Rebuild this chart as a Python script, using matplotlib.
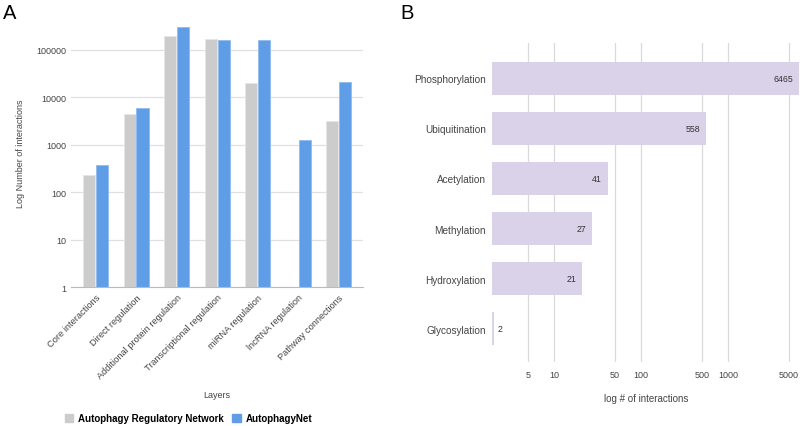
import matplotlib.pyplot as plt
from matplotlib.patches import Patch
import numpy as np

plt.rcParams['font.family'] = ['Liberation Sans', 'DejaVu Sans']

# panel A data
layers = ["Core interactions", "Direct regulation", "Additional protein regulation",
          "Transcriptional regulation", "miRNA regulation", "lncRNA regulation",
          "Pathway connections"]
arn_counts = [235, 4500, 195000, 170000, 20000, 0, 3200]
anet_counts = [380, 6000, 300000, 165000, 165000, 1260, 21000]

# panel B data
ptm_types = ["Phosphorylation", "Ubiquitination", "Acetylation", "Methylation",
             "Hydroxylation", "Glycosylation"]
ptm_counts = [6465, 558, 41, 27, 21, 2]
b_ticks = [5, 10, 50, 100, 500, 1000, 5000]

gray = "#cccccc"
blue = "#5f9de6"
lav = "#d9d2e9"
grid_c = "#e0e0e0"
txt = "#444444"

fig = plt.figure(figsize=(8, 4.27), dpi=100)

# ---- panel A ----
axA = fig.add_axes([0.089, 0.3255, 0.365, 0.628])
x = np.arange(len(layers))
w = 0.3
axA.bar(x - w / 2 - 0.01, arn_counts, w, color=gray, edgecolor="#e6e6e6", linewidth=0.6, zorder=2)
axA.bar(x + w / 2 + 0.01, anet_counts, w, color=blue, edgecolor="#8fbcf0", linewidth=0.6, zorder=2)
axA.set_yscale("log")
axA.set_ylim(1, 10 ** 5.654)
axA.set_xlim(-0.6, len(layers) - 0.4)
axA.set_yticks([1, 10, 100, 1000, 10000, 100000])
axA.set_yticklabels(["1", "10", "100", "1000", "10000", "100000"])
axA.yaxis.set_minor_locator(plt.NullLocator())
axA.grid(axis="y", color=grid_c, linewidth=0.9, zorder=0)
axA.set_axisbelow(True)
for s in ["top", "right", "left"]:
    axA.spines[s].set_visible(False)
axA.spines["bottom"].set_color("#bbbbbb")
axA.tick_params(length=0, labelsize=6.5, labelcolor=txt)
axA.set_xticks(x)
axA.set_xticklabels(layers, rotation=45, ha="right", rotation_mode="anchor", fontsize=6.7)
axA.tick_params(axis="x", pad=4)
axA.set_ylabel("Log Number of interactions", fontsize=6.5, color=txt, labelpad=8)
axA.set_xlabel("Layers", fontsize=6.5, color=txt, labelpad=7)
fig.text(0.004, 0.99, "A", fontsize=14.5, va="top", ha="left")

handles = [Patch(color=gray, label="Autophagy Regulatory Network"),
           Patch(color=blue, label="AutophagyNet")]
leg = fig.legend(handles=handles, loc="center left", bbox_to_anchor=(0.07, 0.018),
                 ncol=2, frameon=False, prop={"weight": "bold", "size": 7.0},
                 handlelength=0.85, handleheight=0.85, handletextpad=0.5, columnspacing=0.9)

# ---- panel B ----
axB = fig.add_axes([0.6145, 0.150, 0.3855, 0.747])
y = np.arange(len(ptm_types))
axB.barh(y, ptm_counts, height=0.66, color=lav, zorder=2)
axB.set_xscale("log")
axB.set_xlim(1.9, 6675)
axB.set_ylim(5.66, -0.7)
axB.set_xticks(b_ticks)
axB.set_xticklabels([str(t) for t in b_ticks])
axB.xaxis.set_minor_locator(plt.NullLocator())
axB.grid(axis="x", color="#d9d9d9", linewidth=0.9, zorder=0)
axB.set_axisbelow(True)
for s in axB.spines.values():
    s.set_visible(False)
axB.set_yticks(y)
axB.set_yticklabels(ptm_types)
axB.tick_params(length=0, labelsize=7, labelcolor=txt)
axB.tick_params(axis="y", labelsize=7.2, pad=4)
axB.tick_params(axis="x", labelsize=6.5, pad=6)
axB.set_xlabel("log # of interactions", fontsize=7, color=txt, labelpad=10)
for yi, v in zip(y, ptm_counts):
    if v > 5:
        axB.annotate(str(v), (v, yi), xytext=(-4, 0), textcoords="offset points",
                     ha="right", va="center", fontsize=6.3, color="#333333")
    else:
        axB.annotate(str(v), (v, yi), xytext=(3, 0), textcoords="offset points",
                     ha="left", va="center", fontsize=6.3, color="#333333")
fig.text(0.5, 0.99, "B", fontsize=14.5, va="top", ha="left")

fig.savefig("out.png", dpi=100, facecolor="white")
